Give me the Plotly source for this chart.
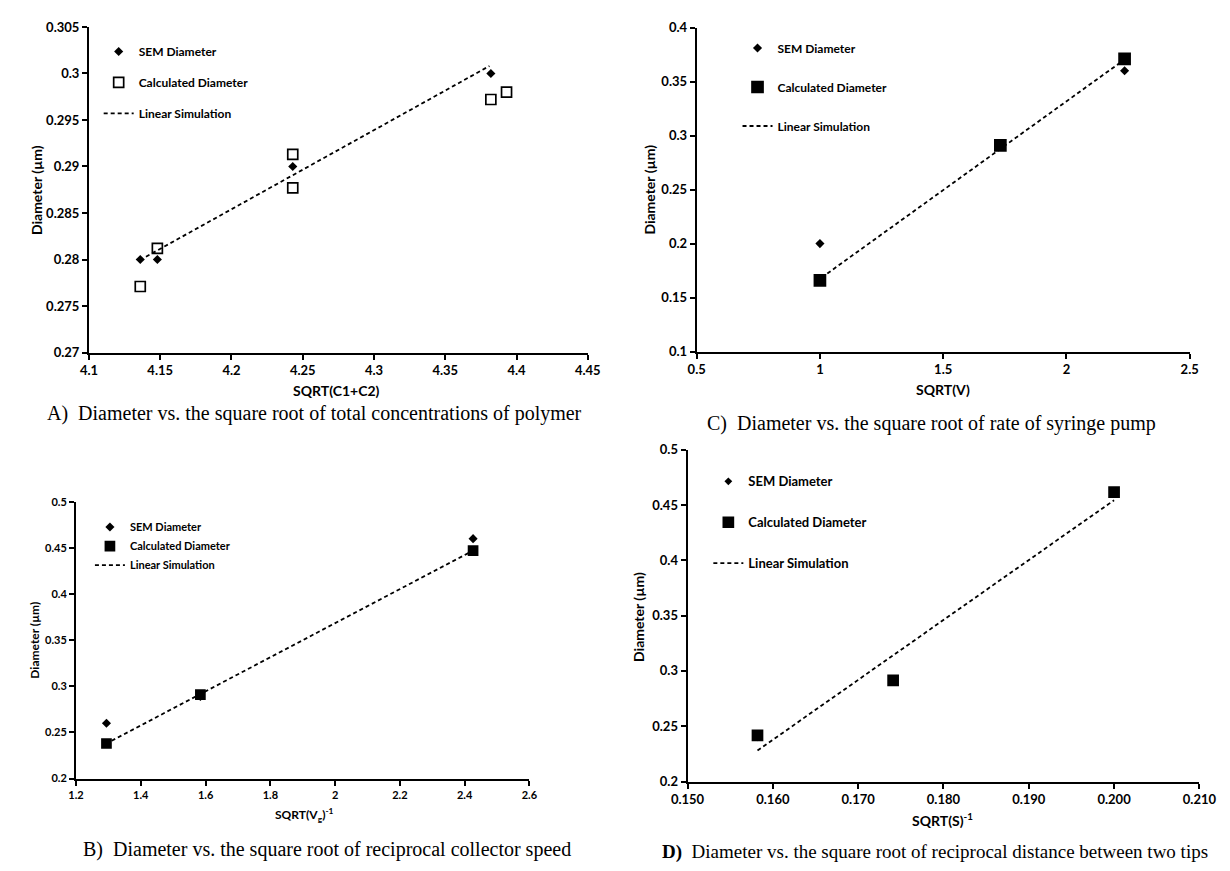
import plotly.graph_objects as go

W, H = 1230, 871

def px(x):
    return x / W

def py(y):
    return 1 - y / H

# ---------------- data ----------------
# Panel A
a_x_sem = [4.136, 4.148, 4.243, 4.382]
a_y_sem = [0.280, 0.280, 0.290, 0.300]
a_x_calc = [4.136, 4.148, 4.243, 4.243, 4.382, 4.393]
a_y_calc = [0.2771, 0.2812, 0.2913, 0.2877, 0.2972, 0.2980]
a_x_lin = [4.140, 4.381]
a_y_lin = [0.2803, 0.3008]
a_xticks = [4.1, 4.15, 4.2, 4.25, 4.3, 4.35, 4.4, 4.45]
a_xticktext = ["4.1", "4.15", "4.2", "4.25", "4.3", "4.35", "4.4", "4.45"]
a_yticks = [0.27, 0.275, 0.28, 0.285, 0.29, 0.295, 0.3, 0.305]
a_yticktext = ["0.27", "0.275", "0.28", "0.285", "0.29", "0.295", "0.3", "0.305"]

# Panel C
c_x = [1.0, 1.732, 2.236]
c_y_sem = [0.200, 0.290, 0.360]
c_y_calc = [0.166, 0.291, 0.371]
c_x_lin = [1.03, 2.22]
c_y_lin = [0.1723, 0.3679]
c_xticks = [0.5, 1, 1.5, 2, 2.5]
c_xticktext = ["0.5", "1", "1.5", "2", "2.5"]
c_yticks = [0.1, 0.15, 0.2, 0.25, 0.3, 0.35, 0.4]
c_yticktext = ["0.1", "0.15", "0.2", "0.25", "0.3", "0.35", "0.4"]

# Panel B
b_x = [1.294, 1.584, 2.426]
b_y_sem = [0.260, 0.289, 0.460]
b_y_calc = [0.238, 0.291, 0.447]
b_x_lin = [1.31, 2.42]
b_y_lin = [0.241, 0.446]
b_xticks = [1.2, 1.4, 1.6, 1.8, 2.0, 2.2, 2.4, 2.6]
b_xticktext = ["1.2", "1.4", "1.6", "1.8", "2", "2.2", "2.4", "2.6"]
b_yticks = [0.2, 0.25, 0.3, 0.35, 0.4, 0.45, 0.5]
b_yticktext = ["0.2", "0.25", "0.3", "0.35", "0.4", "0.45", "0.5"]

# Panel D
d_x = [0.1582, 0.1741, 0.2000]
d_y_sem = [0.240, 0.290, 0.460]
d_y_calc = [0.2418, 0.2915, 0.4617]
d_x_lin = [0.1582, 0.2000]
d_y_lin = [0.228, 0.4544]
d_xticks = [0.150, 0.160, 0.170, 0.180, 0.190, 0.200, 0.210]
d_xticktext = ["0.150", "0.160", "0.170", "0.180", "0.190", "0.200", "0.210"]
d_yticks = [0.2, 0.25, 0.3, 0.35, 0.4, 0.45, 0.5]
d_yticktext = ["0.2", "0.25", "0.3", "0.35", "0.4", "0.45", "0.5"]

names = ["SEM Diameter", "Calculated Diameter", "Linear Simulation"]

# ---------------- figure ----------------
fig = go.Figure()
FONT = "Lato"

panels = [
    dict(ax="", leg="legend", xs=a_x_sem, ys=a_y_sem, xc=a_x_calc, yc=a_y_calc,
         xl=a_x_lin, yl=a_y_lin, sym="square-open", csize=10, dsize=7),
    dict(ax="2", leg="legend2", xs=c_x, ys=c_y_sem, xc=c_x, yc=c_y_calc,
         xl=c_x_lin, yl=c_y_lin, sym="square", csize=11, dsize=7),
    dict(ax="3", leg="legend3", xs=b_x, ys=b_y_sem, xc=b_x, yc=b_y_calc,
         xl=b_x_lin, yl=b_y_lin, sym="square", csize=9, dsize=7),
    dict(ax="4", leg="legend4", xs=d_x, ys=d_y_sem, xc=d_x, yc=d_y_calc,
         xl=d_x_lin, yl=d_y_lin, sym="square", csize=10, dsize=6),
]

# dashed lines first (drawn underneath), then markers
for p in panels:
    fig.add_trace(go.Scatter(
        x=p["xl"], y=p["yl"], mode="lines", name=names[2],
        line=dict(color="black", width=1.8, dash="4px,3px"),
        xaxis="x" + p["ax"], yaxis="y" + p["ax"], legend=p["leg"],
        legendgroup=p["leg"] + "c", legendrank=3))
for p in panels:
    fig.add_trace(go.Scatter(
        x=p["xs"], y=p["ys"], mode="markers", name=names[0],
        marker=dict(symbol="diamond", size=p["dsize"], color="black"),
        xaxis="x" + p["ax"], yaxis="y" + p["ax"], legend=p["leg"],
        legendgroup=p["leg"] + "a", legendrank=1))
    fig.add_trace(go.Scatter(
        x=p["xc"], y=p["yc"], mode="markers", name=names[1],
        marker=dict(symbol=p["sym"], size=p["csize"], color="black",
                    line=dict(color="black", width=1.7)),
        xaxis="x" + p["ax"], yaxis="y" + p["ax"], legend=p["leg"],
        legendgroup=p["leg"] + "b", legendrank=2))


def axis_common(size):
    return dict(showline=True, linecolor="black", linewidth=2, mirror=False,
                ticks="outside", ticklen=5, tickwidth=1.5, tickcolor="black",
                showgrid=False, zeroline=False, fixedrange=True,
                tickfont=dict(family=FONT, size=size, color="black", weight="bold"))

fig.update_layout(
    xaxis=dict(domain=[px(74), px(587)], range=[4.1, 4.45], tickmode="array",
               tickvals=a_xticks, ticktext=a_xticktext, anchor="y", **axis_common(13)),
    yaxis=dict(domain=[py(351), py(19.3)], range=[0.27, 0.305], tickmode="array",
               tickvals=a_yticks, ticktext=a_yticktext, anchor="x", **axis_common(13)),
    xaxis2=dict(domain=[px(699), px(1206)], range=[0.5, 2.5], tickmode="array",
                tickvals=c_xticks, ticktext=c_xticktext, anchor="y2", **axis_common(13)),
    yaxis2=dict(domain=[py(350), py(20)], range=[0.1, 0.4], tickmode="array",
                tickvals=c_yticks, ticktext=c_yticktext, anchor="x2", **axis_common(13)),
    xaxis3=dict(domain=[px(60.7), px(527)], range=[1.2, 2.6], tickmode="array",
                tickvals=b_xticks, ticktext=b_xticktext, anchor="y3", **axis_common(11)),
    yaxis3=dict(domain=[py(785), py(503)], range=[0.2, 0.5], tickmode="array",
                tickvals=b_yticks, ticktext=b_yticktext, anchor="x3", **axis_common(11)),
    xaxis4=dict(domain=[px(689.6), px(1216)], range=[0.150, 0.210], tickmode="array",
                tickvals=d_xticks, ticktext=d_xticktext, anchor="y4", **axis_common(13)),
    yaxis4=dict(domain=[py(788), py(450)], range=[0.2, 0.5], tickmode="array",
                tickvals=d_yticks, ticktext=d_yticktext, anchor="x4", **axis_common(13)),
)


def legend_at(x_left, y_top, size, gap):
    return dict(x=px(x_left), y=py(y_top), xanchor="left", yanchor="top",
                bgcolor="rgba(0,0,0,0)", borderwidth=0, itemwidth=30,
                tracegroupgap=gap, traceorder="grouped",
                font=dict(family=FONT, size=size, color="black", weight="bold"))

fig.update_layout(
    legend=legend_at(84, 29.5, 12, 12),
    legend2=legend_at(741, 26, 12, 20),
    legend3=legend_at(75, 514, 11, 0),
    legend4=legend_at(711, 467, 13, 21),
)

annotations = []


def ann(text, x, y, size, family=FONT, bold=True, angle=0):
    annotations.append(dict(
        text=text, x=px(x), y=py(y), xref="paper", yref="paper",
        xanchor="center", yanchor="middle", showarrow=False, textangle=angle,
        font=dict(family=family, size=size, color="black",
                  weight="bold" if bold else "normal")))

# axis titles
ann("Diameter (µm)", 20, 185, 14, angle=-90)
ann("SQRT(C1+C2)", 329, 390, 14)
ann("Diameter (µm)", 651, 185, 14, angle=-90)
ann("SQRT(V)", 952, 389, 14)
ann("Diameter (µm)", 18, 644, 12, angle=-90)
ann("SQRT(V<sub>g</sub>)<sup>-1</sup>", 296, 822, 12)
ann("Diameter (µm)", 639, 620, 14, angle=-90)
ann("SQRT(S)<sup>-1</sup>", 952, 827, 14)

# captions
SERIF = "Liberation Serif"
ann("A)  Diameter vs. the square root of total concentrations of polymer", 306, 413, 20, SERIF, False)
ann("C)  Diameter vs. the square root of rate of syringe pump", 940, 423, 20, SERIF, False)
ann("B)  Diameter vs. the square root of reciprocal collector speed", 319, 857, 20, SERIF, False)
ann("<b>D)</b>  Diameter vs. the square root of reciprocal distance between two tips", 944, 860, 19, SERIF, False)

fig.update_layout(
    width=W, height=H, margin=dict(l=0, r=0, t=0, b=0),
    paper_bgcolor="white", plot_bgcolor="white",
    annotations=annotations, showlegend=True,
)

fig.write_html("out.html")
